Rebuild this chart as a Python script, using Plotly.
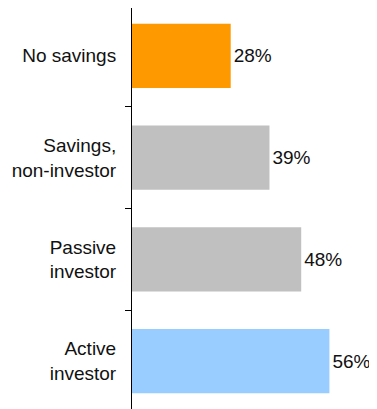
import plotly.graph_objects as go

categories = ['No savings', 'Savings,<br>non-investor', 'Passive<br>investor', 'Active<br>investor']
values = [28, 39, 48, 56]
labels = ['28%', '39%', '48%', '56%']
colors = ['#FF9900', '#C0C0C0', '#C0C0C0', '#99CCFF']

font = 'Liberation Sans, Arial, Helvetica, sans-serif'

fig = go.Figure(go.Bar(
    x=values,
    y=categories,
    orientation='h',
    marker=dict(color=colors, line=dict(width=0)),
    text=labels,
    textposition='outside',
    textfont=dict(size=19, color='#111111', family=font),
    cliponaxis=False,
))

# page body adds ~8px offset, so the figure is sized to the visible area
fig.update_layout(
    width=369, height=401,
    margin=dict(l=124, r=0, t=0, b=0, autoexpand=False),
    plot_bgcolor='white', paper_bgcolor='white',
    bargap=0.37,
    showlegend=False,
    font=dict(family=font, size=19, color='#111111'),
)
fig.update_xaxes(range=[0, 69.5], visible=False, automargin=False)
fig.update_yaxes(
    type='category',
    range=[3.47, -0.47],
    automargin=False,
    showline=True, linecolor='black', linewidth=1,
    ticks='outside', ticklen=6, tickcolor='black', tickwidth=1,
    tickson='boundaries',
    ticklabelstandoff=11,
    showgrid=False, zeroline=False,
)

fig.write_html('out.html')
